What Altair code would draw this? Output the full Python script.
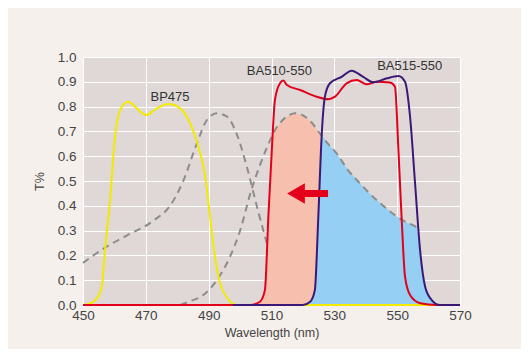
import altair as alt
import pandas as pd

# --- data ---
exc_x = [450, 457.5, 463.9, 472.4, 477.7, 481.9, 486.2, 489.4, 492.6, 495.8, 498.9, 502.1, 505.3, 508.5]
exc_y = [0.17, 0.235, 0.28, 0.34, 0.40, 0.50, 0.65, 0.745, 0.773, 0.76, 0.69, 0.56, 0.40, 0.25]

emi_x = [481, 484, 488.3, 492.6, 496.8, 500, 503.5, 506.5, 509.6, 511.1, 513.5, 515.5, 517.5, 520,
         522.5, 525.5, 528, 530.8, 534, 538.2, 542, 545.6, 549, 552, 554.5, 557]
emi_y = [0.0, 0.015, 0.04, 0.10, 0.195, 0.30, 0.46, 0.57, 0.665, 0.705, 0.745, 0.765, 0.773, 0.765,
         0.74, 0.69, 0.65, 0.61, 0.55, 0.49, 0.44, 0.40, 0.365, 0.34, 0.325, 0.31]

bp_x = [450, 453.3, 455.9, 457, 458.6, 460.2, 461.8, 464.4, 467.1, 470.1, 473.5, 477.2, 480.9, 484.1,
        486.7, 488.9, 490.4, 492, 493.6, 495.8, 498.9, 570]
bp_y = [0.0, 0.013, 0.067, 0.22, 0.42, 0.68, 0.786, 0.82, 0.793, 0.766, 0.793, 0.81, 0.793, 0.733,
        0.64, 0.52, 0.36, 0.195, 0.09, 0.03, 0.0, 0.0]

ba510_x = [450, 503.2, 506.3, 507.9, 509, 510.1, 511.1, 512.7, 513.8, 514.9, 519.1, 524.4, 528.1, 530.2,
           533.9, 537.1, 540.3, 543.5, 547.7, 549.3, 550.4, 551.4, 552.5, 554.1, 557.3, 562.6, 570]
ba510_y = [0.0, 0.0, 0.013, 0.06, 0.356, 0.625, 0.827, 0.894, 0.905, 0.887, 0.867, 0.84, 0.83, 0.84,
           0.894, 0.907, 0.89, 0.90, 0.897, 0.88, 0.625, 0.356, 0.114, 0.04, 0.007, 0.0, 0.0]

ba515_x = [497.7, 520, 522.3, 523.8, 524.9, 526, 527, 528.6, 532.3, 535.5, 539.2, 542.4, 546.7, 550.4,
           552.5, 554.1, 555.7, 557.3, 558.9, 561, 563.6, 570]
ba515_y = [0.0, 0.0, 0.013, 0.06, 0.356, 0.69, 0.84, 0.894, 0.92, 0.945, 0.92, 0.898, 0.914, 0.923,
           0.90, 0.76, 0.49, 0.22, 0.074, 0.02, 0.0, 0.0]

# shaded regions (upper boundary)
salmon_x = [503, 506.3, 507.9, 509, 510.1, 510.6, 511.1, 513.5, 515.5, 517.5, 520, 522.5, 525.5, 526]
salmon_y = [0.0, 0.013, 0.06, 0.356, 0.625, 0.69, 0.705, 0.745, 0.765, 0.773, 0.765, 0.74, 0.69, 0.0]

blue_x = [521.5, 522.3, 523.8, 524.9, 526, 528, 530.8, 534, 538.2, 542, 545.6, 549, 552, 554.5,
          556.2, 557.3, 558.9, 561, 563.6]
blue_y = [0.0, 0.013, 0.06, 0.356, 0.685, 0.65, 0.61, 0.55, 0.49, 0.44, 0.40, 0.365, 0.34, 0.325,
          0.316, 0.22, 0.074, 0.02, 0.0]

labels = ["BP475", "BA510-550", "BA515-550"]
label_x = [477.7, 512.5, 554]
label_y = [0.84, 0.945, 0.965]

arrow_tail_x = [528.0]
arrow_head_x = [517.8]
arrow_y = [0.45]

x_ticks = [450, 470, 490, 510, 530, 550, 570]
y_ticks = [0.0, 0.1, 0.2, 0.3, 0.4, 0.5, 0.6, 0.7, 0.8, 0.9, 1.0]

# --- chart ---
xs = alt.Scale(domain=[450, 570], nice=False, zero=False)
ys = alt.Scale(domain=[0, 1], nice=False)

X = alt.X("x:Q", scale=xs, axis=alt.Axis(values=x_ticks, title="Wavelength (nm)", format="d",
                                         labelPadding=3, titlePadding=5, labelFlush=False))
Y = alt.Y("y:Q", scale=ys, axis=alt.Axis(values=y_ticks, title="T%", format=".1f",
                                         labelPadding=7, titlePadding=11, labelFlush=False))


def df(xv, yv):
    return pd.DataFrame({"x": xv, "y": yv})


# axes / grid layer
base = alt.Chart(df([450, 570], [0, 1])).mark_point(opacity=0).encode(x=X, y=Y)

exc = alt.Chart(df(exc_x, exc_y)).mark_line(
    color="#8c8c8c", strokeWidth=2, strokeDash=[7, 5], interpolate="monotone"
).encode(x=X, y=Y)

salmon = alt.Chart(df(salmon_x, salmon_y)).mark_area(color="#f6bfae", opacity=1).encode(x=X, y=Y)
blue = alt.Chart(df(blue_x, blue_y)).mark_area(color="#95cff3", opacity=1).encode(x=X, y=Y)

emi = alt.Chart(df(emi_x, emi_y)).mark_line(
    color="#8c8c8c", strokeWidth=2, strokeDash=[7, 5], interpolate="monotone"
).encode(x=X, y=Y)

bp = alt.Chart(df(bp_x, bp_y)).mark_line(color="#f4ea00", strokeWidth=2, interpolate="monotone").encode(x=X, y=Y)
r510 = alt.Chart(df(ba510_x, ba510_y)).mark_line(color="#e2001a", strokeWidth=2, interpolate="monotone").encode(x=X, y=Y)
p515 = alt.Chart(df(ba515_x, ba515_y)).mark_line(color="#3b1878", strokeWidth=2, interpolate="monotone").encode(x=X, y=Y)

arrow_df = pd.DataFrame({"x": arrow_tail_x, "x2": arrow_head_x, "y": arrow_y})
shaft = alt.Chart(arrow_df).mark_rule(color="#e2001a", strokeWidth=7).encode(
    x=X, x2="x2:Q", y=Y)
head = alt.Chart(pd.DataFrame({"x": arrow_head_x, "y": arrow_y})).mark_point(
    shape="triangle-left", size=420, filled=True, color="#e2001a", opacity=1
).encode(x=X, y=Y)

txt = alt.Chart(pd.DataFrame({"x": label_x, "y": label_y, "t": labels})).mark_text(
    font="Liberation Sans", fontSize=13, color="#333333", align="center", baseline="middle"
).encode(x=X, y=Y, text="t:N")

chart = alt.layer(base, exc, salmon, blue, emi, bp, r510, p515, shaft, head, txt).properties(
    width=377, height=248,
    background="#f5f0eb",
    autosize=alt.AutoSizeParams(type="none"),
    padding={"left": 75, "top": 49, "right": 61, "bottom": 44},
).configure_view(
    fill="#dfd8d6", stroke=None
).configure_axis(
    grid=True, gridColor="#ffffff", gridWidth=1, gridOpacity=1,
    domain=False, ticks=False,
    labelFont="Liberation Sans", labelFontSize=13.5, labelColor="#444444",
    titleFont="Liberation Sans", titleFontSize=12.5, titleFontWeight="normal", titleColor="#444444",
)

chart.save("out.html", embed_options={"renderer": "svg", "actions": False})
